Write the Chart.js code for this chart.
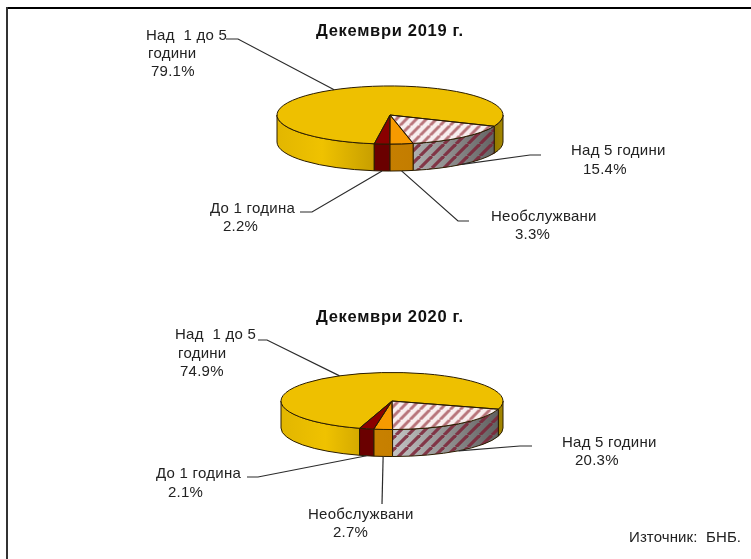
<!doctype html>
<html lang="bg">

<head>
  <meta charset="utf-8">
  <title>Декември 2019 г. / Декември 2020 г.</title>
  <style>
    * {
      margin: 0;
      padding: 0;
    }

    body {
      width: 751px;
      height: 559px;
      background: #fff;
      overflow: hidden;
      position: relative;
    }

    .frame-top {
      position: absolute;
      left: 6px;
      right: 0;
      top: 7px;
      height: 2px;
      background: #000;
    }

    .frame-left {
      position: absolute;
      left: 6px;
      top: 7px;
      bottom: 0;
      width: 2px;
      background: #333;
    }

    .panel {
      position: absolute;
      left: 0;
      width: 751px;
      height: 280px;
    }

    .source {
      position: absolute;
      left: 629px;
      top: 528px;
      font: 15px "Liberation Sans", Arial, sans-serif;
      letter-spacing: 0.1px;
      color: #222;
      white-space: pre;
    }
  </style>
</head>

<body>
  <div class="frame-top"></div>
  <div class="frame-left"></div>
  <div class="panel" style="top:0"><canvas id="chart2019"></canvas></div>
  <div class="panel" style="top:279px"><canvas id="chart2020"></canvas></div>
  <div class="source">Източник:  БНБ.</div>

  <script src="https://cdn.jsdelivr.net/npm/chart.js"></script>
  <script>
    // order of the slices, clockwise
    const categories = ['Над  1 до 5 години', 'Над 5 години', 'Необслужвани', 'До 1 година'];
    const categoryLines = [['Над  1 до 5', 'години'], ['Над 5 години'], ['Необслужвани'], ['До 1 година']];
    const values2019 = [79.1, 15.4, 3.3, 2.2];
    const values2020 = [74.9, 20.3, 2.7, 2.1];
    const titles = ['Декември 2019 г.', 'Декември 2020 г.'];

    const SQUASH = 0.257;   // flat ellipse ratio of the "3d" pie
    const DEPTH = 27;
    const fontFamily = '"Liberation Sans", Arial, sans-serif';
    const outline = '#2a1c00';

    function stripes(bg, fg, width, size) {
      const c = document.createElement('canvas');
      c.width = size;
      c.height = size;
      const x = c.getContext('2d');
      if (bg) {
        x.fillStyle = bg;
        x.fillRect(0, 0, size, size);
      }
      x.strokeStyle = fg;
      x.lineWidth = width;
      for (let i = -size; i <= size * 2; i += size) {
        x.beginPath();
        x.moveTo(i, size);
        x.lineTo(i + size, 0);
        x.stroke();
      }
      return x;
    }

    // the pattern is set back so the stripes stay at 45 degrees on the squashed top
    function topHatch(ctx) {
      const p = ctx.createPattern(stripes('#f8eeee', '#b8747a', 3, 10).canvas, 'repeat');
      p.setTransform(new DOMMatrix().scale(1, 1 / SQUASH));
      return p;
    }

    function sideFill(ctx, i, cx, r) {
      const g = ctx.createLinearGradient(cx - r, 0, cx + r, 0);
      if (i === 0) {
        g.addColorStop(0, '#e2b600');
        g.addColorStop(0.2, '#efc200');
        g.addColorStop(0.42, '#c9a000');
        g.addColorStop(0.95, '#8c7200');
        g.addColorStop(1, '#a58800');
      } else if (i === 1) {
        g.addColorStop(0.5, '#c4c4c4');
        g.addColorStop(1, '#5c5c5c');
      } else if (i === 2) {
        g.addColorStop(0, '#d48a00');
        g.addColorStop(1, '#b87400');
      } else {
        g.addColorStop(0, '#6a0000');
        g.addColorStop(1, '#6a0000');
      }
      return g;
    }

    const pie3d = {
      id: 'pie3d',
      beforeDatasetsDraw(chart) {
        const ctx = chart.ctx;
        const arcs = chart.getDatasetMeta(0).data;
        const { x: cx, y: cy, outerRadius: r } = arcs[0];
        ctx.save();
        ctx.lineWidth = 1;
        ctx.strokeStyle = outline;
        arcs.forEach((arc, i) => {
          // only the front half of the rim can be seen
          for (let n = -1; n <= 2; n++) {
            const a = Math.max(arc.startAngle, n * 2 * Math.PI);
            const b = Math.min(arc.endAngle, n * 2 * Math.PI + Math.PI);
            if (b <= a) continue;
            ctx.beginPath();
            ctx.ellipse(cx, cy, r, r * SQUASH, 0, a, b);
            ctx.ellipse(cx, cy + DEPTH, r, r * SQUASH, 0, b, a, true);
            ctx.closePath();
            ctx.fillStyle = sideFill(ctx, i, cx, r);
            ctx.fill();
            if (i === 1) {
              ctx.fillStyle = ctx.createPattern(stripes(null, 'rgba(125,35,55,0.85)', 3.2, 12).canvas, 'repeat');
              ctx.fill();
            }
            ctx.stroke();
          }
        });
        ctx.restore();

        ctx.save();
        ctx.translate(cx, cy);
        ctx.scale(1, SQUASH);
        ctx.translate(-cx, -cy);
      },
      afterDatasetsDraw(chart, args, opts) {
        const ctx = chart.ctx;
        ctx.restore();
        const arcs = chart.getDatasetMeta(0).data;
        const { x: cx, y: cy, outerRadius: r } = arcs[0];

        // slice outlines, stroked without the squash so that they keep an even width
        ctx.save();
        ctx.lineWidth = 1;
        ctx.strokeStyle = outline;
        arcs.forEach(arc => {
          ctx.beginPath();
          ctx.ellipse(cx, cy, r, r * SQUASH, 0, arc.startAngle, arc.endAngle);
          ctx.lineTo(cx, cy);
          ctx.closePath();
          ctx.stroke();
        });
        ctx.restore();

        // leader lines, from the middle of each slice to its label
        ctx.save();
        ctx.lineWidth = 1.2;
        ctx.strokeStyle = '#2b2b2b';
        arcs.forEach((arc, i) => {
          const mid = (arc.startAngle + arc.endAngle) / 2;
          const y = cy + Math.sin(mid) * r * SQUASH + (Math.sin(mid) > 0 ? DEPTH : 0);
          ctx.beginPath();
          ctx.moveTo(cx + Math.cos(mid) * r, y);
          opts.leaders[i].forEach(p => ctx.lineTo(p[0], p[1] - opts.top));
          ctx.stroke();
        });
        ctx.restore();

        // labels
        ctx.save();
        ctx.fillStyle = '#222';
        ctx.textBaseline = 'middle';
        ctx.font = '15px ' + fontFamily;
        ctx.letterSpacing = '0.25px';
        const values = chart.data.datasets[0].data;
        categoryLines.forEach((lines, i) => {
          const rows = lines.concat(values[i].toFixed(1) + '%');
          rows.forEach((row, j) => {
            const p = opts.labels[i][j];
            ctx.fillText(row, p[0], p[1] + 1 - opts.top);
          });
        });
        ctx.font = 'bold 16.5px ' + fontFamily;
        ctx.letterSpacing = '0.7px';
        ctx.fillStyle = '#111';
        ctx.fillText(opts.title, 316, opts.titleY + 1 - opts.top);
        ctx.restore();
      }
    };

    function makePie(id, values, cx, cy, r, top, rotation, title, titleY, leaders, labels) {
      const ctx = document.getElementById(id).getContext('2d');
      return new Chart(ctx, {
        type: 'pie',
        data: {
          labels: categories,
          datasets: [{
            data: values,
            borderWidth: 0,
            backgroundColor: ['#eec000', topHatch(ctx), '#f79a00', '#8a0000']
          }]
        },
        options: {
          responsive: true,
          maintainAspectRatio: false,
          animation: false,
          events: [],
          rotation: rotation,
          layout: {
            padding: {
              left: cx - r,
              right: 751 - cx - r,
              top: cy - top - r,
              bottom: 280 - (cy - top) - r
            }
          },
          plugins: {
            legend: { display: false },
            tooltip: { enabled: false },
            pie3d: { top, title, titleY, leaders, labels }
          }
        },
        plugins: [pie3d]
      });
    }

    makePie('chart2019', values2019, 390, 115, 113, 0, 188, titles[0], 30,
      [
        [[238, 39], [226, 39]],
        [[530, 155], [541, 155]],
        [[458, 221], [469, 221]],
        [[312, 212], [300, 212]]
      ],
      [
        [[146, 35], [148, 53], [151, 71]],
        [[571, 150], [583, 169]],
        [[491, 216], [515, 234]],
        [[210, 208], [223, 226]]
      ]);

    makePie('chart2020', values2020, 392, 401, 111, 279, 197, titles[1], 316,
      [
        [[267, 340], [258, 340]],
        [[520, 446], [532, 446]],
        [[382, 504]],
        [[258, 477], [247, 477]]
      ],
      [
        [[175, 334], [178, 353], [180, 371]],
        [[562, 442], [575, 460]],
        [[308, 514], [333, 532]],
        [[156, 473], [168, 492]]
      ]);
  </script>
</body>

</html>
